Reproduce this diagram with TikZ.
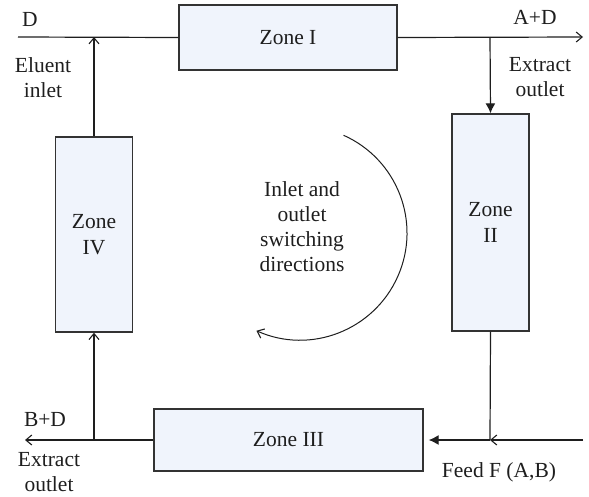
\documentclass[tikz,border=0pt]{standalone}
\usepackage{fontspec}
\setmainfont{Liberation Serif}
\usetikzlibrary{arrows.meta}

\definecolor{zonefill}{HTML}{F0F4FC}
\definecolor{zoneline}{HTML}{333333}
\definecolor{inkline}{HTML}{1E1E1E}

\tikzset{
  zone/.style={draw=zoneline, fill=zonefill, line width=1.4pt, inner sep=0pt,
               align=center, text=inkline, font=\fontsize{21.5}{26.5}\selectfont},
  lbl/.style={inner sep=0pt, align=center, text=inkline,
              font=\fontsize{21.5}{25}\selectfont},
  flow/.style={draw=inkline, line width=1.2pt},
  barb/.style={flow, -{Straight Barb[length=6pt,width=10pt,line width=1.1pt]}},
  solidtip/.style={flow, -{Latex[length=10pt,width=10pt]}}
}

\begin{document}
\begin{tikzpicture}[x=1pt, y=-1pt]
  \useasboundingbox (0,0) rectangle (589,496);

  % the four zones of the column loop
  \node[zone, minimum width=218pt, minimum height=65pt] (zone1) at (288,37.5) {Zone I};
  \node[zone, minimum width=77pt, minimum height=217pt] (zone2) at (490.5,222.5) {Zone\\II};
  \node[zone, minimum width=269pt, minimum height=62pt] (zone3) at (288.5,440) {Zone III};
  \node[zone, minimum width=77pt, minimum height=195pt] (zone4) at (94,234.5) {Zone\\IV};

  % junctions and free line ends
  \coordinate (dstart) at (18,37);
  \coordinate (j1) at (94,37);
  \coordinate (j2) at (490,37);
  \coordinate (aend) at (583,37);
  \coordinate (j3) at (490,440);
  \coordinate (feedstart) at (583,440);
  \coordinate (j4) at (94,440);
  \coordinate (bend) at (25,440);

  % top line: eluent in, extract A+D out
  \draw[flow] (dstart) -- (zone1.west);
  \draw[barb] (zone4.north) -- (j1);
  \draw[barb] (zone1.east) -- (aend);
  \draw[solidtip] (j2) -- (zone2.north);

  % right side and feed line
  \draw[flow] (zone2.south) -- (j3);
  \draw[barb] (feedstart) -- (j3);
  \draw[solidtip, shorten >=5pt] (j3) -- (zone3.east);

  % bottom line: extract B+D out, return to zone IV
  \draw[barb] (zone3.west) -- (bend);
  \draw[barb] (j4) -- (zone4.south);

  % labels
  \node[lbl] (tD) at (30,19) {D};
  \node[lbl] (tAD) at (535,17) {A+D};
  \node[lbl] (tEluent) at (43,77.5) {Eluent\\inlet};
  \node[lbl] (tExtTop) at (540,77) {Extract\\outlet};
  \node[lbl] (tBD) at (45,419) {B+D};
  \node[lbl] (tExtBot) at (49,472) {Extract\\outlet};
  \node[lbl] (tFeed) at (499,472) {Feed F (A,B)};

  % switching direction
  \node[lbl] (tSwitch) at (302,227) {Inlet and\\outlet\\switching\\directions};
  \coordinate (arcc) at (300,233);
  \draw[barb, line width=1pt] (arcc) ++(-66:107) arc[start angle=-66, end angle=114, radius=107];
\end{tikzpicture}
\end{document}
